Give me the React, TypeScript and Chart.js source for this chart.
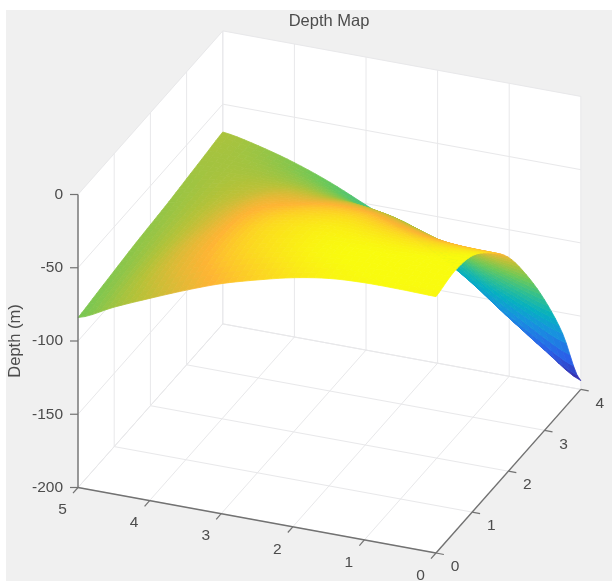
import React, { useEffect, useRef } from "react";
import { Chart, registerables } from "chart.js";

Chart.register(...registerables);

// ---- data ----
const titleText = "Depth Map";
const depthLabel = "Depth (m)";
const xTicks = [0, 1, 2, 3, 4, 5];
const yTicks = [0, 1, 2, 3, 4];
const zTicks = [0, -50, -100, -150, -200];
const xGrid = [0, 0.5, 1, 1.5, 2, 2.5, 3, 3.5, 4, 4.5, 5];
const yGrid = [0, 0.5, 1, 1.5, 2, 2.5, 3, 3.5, 4];
// depth (m): one row per xGrid value, one column per yGrid value
const depthAtX0 = [-25, -22, -25, -37, -54, -80, -111, -148, -194];
const depthAtX05 = [-24.5, -22.6, -26.7, -36.9, -53.1, -75.4, -103.7, -138, -178];
const depthAtX1 = [-24.5, -23.2, -27.1, -36.2, -50.6, -70.3, -95.2, -125.4, -160];
const depthAtX15 = [-26, -24, -26.7, -34.1, -46.2, -62.9, -84.3, -110.4, -141];
const depthAtX2 = [-30, -26.3, -27, -32.2, -42, -56.5, -75, -98, -125];
const depthAtX25 = [-36, -31, -30, -34, -42, -54, -70, -90, -112];
const depthAtX3 = [-43, -37, -35, -38, -45, -55, -68, -84, -101];
const depthAtX35 = [-52, -46, -44, -45, -49, -56, -66, -78, -90];
const depthAtX4 = [-62, -57, -55, -56, -58, -62, -67, -74, -81];
const depthAtX45 = [-72.5, -70, -68.5, -68, -68, -68.5, -69.5, -71.5, -74];
const depthAtX5 = [-84, -82, -80, -78, -76.5, -75, -73, -71, -69];
const depthRows = [depthAtX0, depthAtX05, depthAtX1, depthAtX15, depthAtX2, depthAtX25, depthAtX3, depthAtX35, depthAtX4, depthAtX45, depthAtX5];
const colorStops = ["#3A2AA8", "#2A5FE8", "#1890E0", "#05B0C0", "#30BF90", "#6CC858", "#B4C238", "#FEB434", "#F9FB0E"];
const colorLimits = [-194, -24];

// ---- view of the 3-D box (orthographic) ----
const project = (x: number, y: number, z: number) => ({
  x: 436 - 71.6 * x + 36.2 * y,
  y: 553 - 13.1 * x - 40.9 * y - 1.465 * (z + 200),
});

const hex = (s: string) => [1, 3, 5].map((i) => parseInt(s.slice(i, i + 2), 16));
const parula = (z: number) => {
  const t = Math.min(1, Math.max(0, (z - colorLimits[0]) / (colorLimits[1] - colorLimits[0]))) * (colorStops.length - 1);
  const i = Math.min(colorStops.length - 2, Math.floor(t));
  const a = hex(colorStops[i]);
  const b = hex(colorStops[i + 1]);
  const c = a.map((v, k) => Math.round(v + (b[k] - v) * (t - i)));
  return `rgb(${c[0]},${c[1]},${c[2]})`;
};

// smooth (Catmull-Rom) shading between the grid values
const cr = (a: number, b: number, c: number, d: number, t: number) =>
  b + 0.5 * t * (c - a + t * (2 * a - 5 * b + 4 * c - d + t * (3 * (b - c) + d - a)));
const clampIdx = (v: number, n: number) => Math.max(0, Math.min(n - 1, v));
const surfaceDepth = (i: number, j: number, u: number, v: number) => {
  const rowAt = (r: number) => {
    const row = depthRows[clampIdx(r, depthRows.length)];
    const n = row.length;
    return cr(row[clampIdx(j - 1, n)], row[j], row[clampIdx(j + 1, n)], row[clampIdx(j + 2, n)], v);
  };
  return cr(rowAt(i - 1), rowAt(i), rowAt(i + 1), rowAt(i + 2), u);
};

const GRID = "#e8e8ea";
const AXIS = "#727272";
const TEXT = "#4c4c4c";
const lineSet = (pts: { x: number; y: number }[], color: string, width: number) => ({
  data: pts,
  showLine: true,
  borderColor: color,
  borderWidth: width,
  pointRadius: 0,
  fill: false as any,
  clip: false as any,
});

function buildDatasets() {
  const zMin = zTicks[zTicks.length - 1];
  const zMax = zTicks[0];
  const drawn: any[] = [];
  // white walls and floor
  const outline = [project(5, 0, zMax), project(5, 4, zMax), project(0, 4, zMax), project(0, 4, zMin), project(0, 0, zMin), project(5, 0, zMin)];
  drawn.push({
    data: [...outline, outline[0]],
    showLine: true,
    backgroundColor: "#ffffff",
    borderColor: "#ffffff",
    borderWidth: 0,
    pointRadius: 0,
    fill: "shape",
    clip: false,
  });
  // grid: floor
  xTicks.forEach((x) => drawn.push(lineSet([project(x, 0, zMin), project(x, 4, zMin)], GRID, 1)));
  yTicks.forEach((y) => drawn.push(lineSet([project(0, y, zMin), project(5, y, zMin)], GRID, 1)));
  // grid: left wall (x = 5) and back wall (y = 4)
  yTicks.forEach((y) => drawn.push(lineSet([project(5, y, zMin), project(5, y, zMax)], GRID, 1)));
  xTicks.forEach((x) => drawn.push(lineSet([project(x, 4, zMin), project(x, 4, zMax)], GRID, 1)));
  zTicks.forEach((z) => drawn.push(lineSet([project(5, 0, z), project(5, 4, z), project(0, 4, z)], GRID, 1)));

  // surface, far cells first; each grid cell is shaded in small steps (interpolated shading)
  const steps = 5;
  for (let i = xGrid.length - 2; i >= 0; i--) {
    for (let j = yGrid.length - 2; j >= 0; j--) {
      const at = (u: number, v: number) => {
        const z = surfaceDepth(i, j, u, v);
        const x = xGrid[i] + (xGrid[i + 1] - xGrid[i]) * u;
        const y = yGrid[j] + (yGrid[j + 1] - yGrid[j]) * v;
        return { ...project(x, y, z), z };
      };
      for (let a = steps - 1; a >= 0; a--) {
        for (let b = steps - 1; b >= 0; b--) {
          const p = [at(a / steps, b / steps), at((a + 1) / steps, b / steps), at((a + 1) / steps, (b + 1) / steps), at(a / steps, (b + 1) / steps)];
          const color = parula(at((a + 0.5) / steps, (b + 0.5) / steps).z);
          drawn.push({
            data: [...p, p[0]].map((q) => ({ x: q.x, y: q.y })),
            showLine: true,
            backgroundColor: color,
            borderColor: color,
            borderWidth: 0.8,
            pointRadius: 0,
            fill: "shape",
            clip: false,
          });
        }
      }
    }
  }

  // axes and tick marks in front
  drawn.push(lineSet([project(5, 0, zMin), project(5, 0, zMax)], AXIS, 1.4));
  drawn.push(lineSet([project(5, 0, zMin), project(0, 0, zMin)], AXIS, 1.4));
  drawn.push(lineSet([project(0, 0, zMin), project(0, 4, zMin)], AXIS, 1.4));
  zTicks.forEach((z) => {
    const p = project(5, 0, z);
    drawn.push(lineSet([p, { x: p.x - 8, y: p.y }], AXIS, 1.2));
  });
  xTicks.forEach((x) => {
    const p = project(x, 0, zMin);
    drawn.push(lineSet([p, { x: p.x - 5, y: p.y + 5.7 }], AXIS, 1.2));
  });
  yTicks.forEach((y) => {
    const p = project(0, y, zMin);
    drawn.push(lineSet([p, { x: p.x + 7.9, y: p.y + 1.5 }], AXIS, 1.2));
  });
  // Chart.js paints the first dataset last
  return drawn.reverse();
}

const backdrop = {
  id: "backdrop",
  beforeDraw(chart: any) {
    const { ctx, width, height } = chart;
    ctx.save();
    ctx.fillStyle = "#ffffff";
    ctx.fillRect(0, 0, width, height);
    ctx.fillStyle = "#f0f0f0";
    ctx.fillRect(6, 10, width - 6, height - 10);
    ctx.restore();
  },
};

const labels = {
  id: "labels3d",
  afterDraw(chart: any) {
    const { ctx } = chart;
    const zMin = zTicks[zTicks.length - 1];
    ctx.save();
    ctx.fillStyle = TEXT;
    ctx.textBaseline = "middle";
    ctx.font = "15.5px 'Liberation Sans'";
    ctx.textAlign = "right";
    zTicks.forEach((z) => ctx.fillText(String(z), 63, project(5, 0, z).y));
    ctx.textAlign = "center";
    xTicks.forEach((x) => {
      const p = project(x, 0, zMin);
      ctx.fillText(String(x), p.x - 15.5, p.y + 22.5);
    });
    yTicks.forEach((y) => {
      const p = project(0, y, zMin);
      ctx.fillText(String(y), p.x + 19, p.y + 14);
    });
    ctx.font = "16.5px 'Liberation Sans'";
    ctx.fillText(titleText, 329, 21);
    ctx.translate(15, 341);
    ctx.rotate(-Math.PI / 2);
    ctx.fillText(depthLabel, 0, 0);
    ctx.restore();
  },
};

export default function App() {
  const ref = useRef<HTMLCanvasElement | null>(null);
  useEffect(() => {
    if (!ref.current) return;
    const chart = new Chart(ref.current, {
      type: "scatter",
      data: { datasets: buildDatasets() },
      options: {
        responsive: false,
        animation: false,
        layout: { padding: 0 },
        plugins: { legend: { display: false }, title: { display: false }, tooltip: { enabled: false } },
        elements: { line: { tension: 0 } },
        scales: {
          x: { type: "linear", min: 0, max: 612, display: false },
          y: { type: "linear", min: 0, max: 581, reverse: true, display: false },
        },
      },
      plugins: [backdrop, labels],
    } as any);
    return () => chart.destroy();
  }, []);
  return (
    <div style={{ position: "absolute", left: 0, top: 0, width: 612, height: 581, overflow: "hidden" }}>
      <canvas ref={ref} width={612} height={581} style={{ display: "block", filter: "blur(0.7px)" }} />
    </div>
  );
}
